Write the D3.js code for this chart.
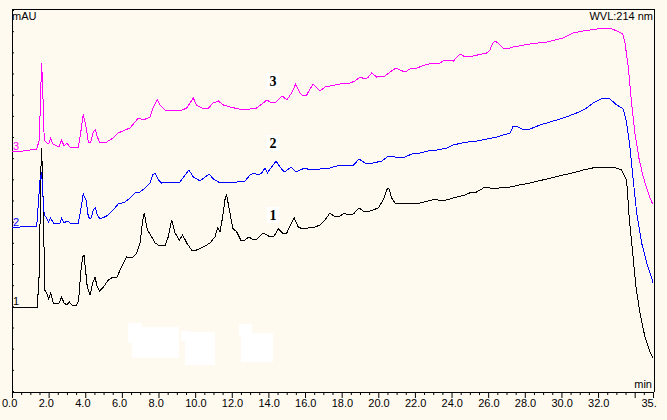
<!DOCTYPE html>
<html><head><meta charset="utf-8">
<script src="https://cdn.jsdelivr.net/npm/d3@7"></script>
<style>html,body{margin:0;padding:0;background:#FFFAF0;overflow:hidden;} svg{display:block;}</style>
</head><body><svg id="c" width="667" height="420"></svg>
<script>
// ---- data (time in min, signal in mAU-like units) ----
const xTickValues = [0,2,4,6,8,10,12,14,16,18,20,22,24,26,28,30,32,34,35];
const xTickLabels = ["0.0","2.0","4.0","6.0","8.0","10.0","12.0","14.0","16.0","18.0","20.0","22.0","24.0","26.0","28.0","30.0","32.0","","35.0"];
const seriesNames = ["1","2","3"];
const seriesColors = ["#000000","#0000FF","#FF00FF"];

const trace1 = [[0,84],[1.38,84],[1.49,118],[1.57,218],[1.62,243],[1.71,184],[1.79,101],[1.89,98],[2.00,92],[2.11,98],[2.26,88],[2.44,87],[2.58,88],[2.71,94],[2.84,88],[2.99,86],[3.13,89],[3.28,86],[3.53,86],[3.64,91],[3.75,118],[3.86,134],[3.93,136],[4.00,124],[4.11,104],[4.26,96],[4.41,108],[4.53,114],[4.66,104],[4.77,100],[4.99,104],[5.26,111],[5.53,114],[5.72,113],[5.90,121],[6.17,131],[6.26,134],[6.54,133],[6.81,138],[6.99,148],[7.14,171],[7.22,178],[7.39,161],[7.63,154],[7.81,148],[7.99,146],[8.35,145],[8.53,154],[8.72,171],[8.90,158],[9.14,151],[9.32,156],[9.54,148],[9.81,141],[10.08,141],[10.45,144],[10.81,148],[11.08,154],[11.23,163],[11.36,159],[11.50,174],[11.65,194],[11.72,196],[11.87,181],[12.05,163],[12.27,159],[12.49,151],[12.72,151],[12.94,154],[13.18,151],[13.39,152],[13.72,158],[14.00,155],[14.31,155],[14.54,162],[14.76,158],[15.00,158],[15.27,168],[15.41,173],[15.63,164],[15.87,162],[16.18,163],[16.54,164],[16.82,166],[17.09,171],[17.36,178],[17.64,174],[17.91,175],[18.14,178],[18.36,176],[18.64,177],[18.95,183],[19.18,180],[19.55,180],[20.00,183],[20.27,191],[20.46,201],[20.57,203],[20.73,193],[20.91,188],[21.19,187],[21.46,188],[21.80,187],[22.28,188],[22.73,190],[23.10,192],[23.46,190],[23.92,192],[24.28,194],[24.74,196],[25.10,199],[25.37,199],[25.83,204],[26.10,203],[26.60,203],[27.19,204],[27.70,206],[28.28,208],[29.20,212],[30.10,216],[30.60,218],[31.19,221],[31.70,223],[32.11,224],[32.83,224],[33.29,221],[33.47,214],[33.56,211],[33.71,171],[33.89,138],[34.07,104],[34.29,78],[34.56,54],[34.84,39],[35.00,33]];

const trace2 = [[0,163],[0.44,164],[1.35,165],[1.53,211],[1.62,219],[1.71,188],[1.76,176],[1.89,173],[2.00,169],[2.11,173],[2.26,168],[2.62,168],[2.71,173],[2.84,168],[3.02,170],[3.17,168],[3.62,168],[3.75,181],[3.89,197],[4.04,191],[4.17,174],[4.30,172],[4.44,181],[4.55,183],[4.66,176],[4.80,172],[5.17,175],[5.53,181],[5.80,187],[6.17,189],[6.44,193],[6.72,198],[6.99,199],[7.26,203],[7.53,208],[7.68,216],[7.81,218],[7.99,211],[8.17,208],[8.45,209],[9.17,209],[9.45,216],[9.66,221],[9.90,214],[10.27,210],[10.54,214],[10.77,217],[10.99,212],[11.27,209],[12.27,209],[12.72,210],[13.00,216],[13.21,218],[13.42,216],[13.63,218],[13.81,223],[13.94,218],[14.18,224],[14.42,230],[14.63,224],[14.87,219],[15.03,221],[15.23,224],[15.51,219],[15.73,221],[16.00,223],[16.27,221],[16.82,222],[17.36,223],[17.91,226],[18.64,226],[18.96,232],[19.27,228],[19.73,228],[20.19,230],[20.55,235],[20.91,234],[21.46,234],[21.83,237],[22.28,238],[22.73,240],[23.19,241],[23.74,243],[24.10,246],[24.55,248],[24.92,249],[25.37,250],[25.92,252],[26.47,254],[27.01,257],[27.19,258],[27.37,265],[27.65,264],[27.83,262],[28.28,262],[28.83,266],[29.38,269],[30.10,273],[30.83,278],[31.38,283],[31.74,288],[32.29,293],[32.65,292],[33.02,286],[33.38,282],[33.56,268],[33.74,244],[33.92,211],[34.11,178],[34.38,148],[34.66,128],[34.93,113],[35.00,108]];

const trace3 = [[0,239],[0.62,240],[1.35,242],[1.49,251],[1.57,301],[1.62,328],[1.71,284],[1.76,251],[1.89,248],[2.00,247],[2.11,253],[2.22,247],[2.44,245],[2.58,245],[2.71,251],[2.84,245],[2.99,248],[3.17,244],[3.62,244],[3.75,258],[3.89,277],[4.04,264],[4.17,249],[4.30,249],[4.44,259],[4.55,261],[4.66,254],[4.80,248],[5.17,249],[5.53,253],[5.80,258],[6.17,261],[6.44,263],[6.72,269],[6.90,273],[7.17,271],[7.53,274],[7.72,284],[7.93,291],[8.12,285],[8.35,281],[9.17,280],[9.54,283],[9.76,289],[9.90,293],[10.08,286],[10.36,283],[10.72,283],[10.99,288],[11.27,290],[11.54,286],[11.90,284],[12.63,281],[13.36,283],[13.72,288],[13.91,291],[14.09,289],[14.36,288],[14.63,293],[14.78,295],[15.00,291],[15.27,298],[15.49,307],[15.73,298],[15.91,295],[16.09,296],[16.27,302],[16.45,307],[16.64,303],[16.82,300],[17.09,304],[17.36,305],[17.91,307],[18.46,308],[18.73,310],[19.00,314],[19.27,312],[19.46,314],[19.64,318],[19.91,314],[20.37,315],[20.64,319],[20.97,323],[21.19,321],[21.46,319],[21.73,322],[22.10,323],[22.55,326],[23.00,328],[23.28,327],[23.55,330],[23.74,331],[24.10,330],[24.46,337],[24.74,334],[25.19,335],[25.65,337],[25.92,338],[26.10,341],[26.25,348],[26.37,350],[26.55,348],[26.79,343],[27.01,342],[27.37,344],[28.28,347],[29.20,349],[30.10,353],[30.65,358],[31.19,360],[31.93,362],[32.65,363],[33.02,360],[33.35,357],[33.47,348],[33.65,324],[33.83,288],[34.01,258],[34.25,231],[34.47,214],[34.74,198],[34.93,189],[35.00,187]];

const peakLabels = ["1","2","3"];
const peakLabelTimes = [14.17,14.17,14.17];
const peakLabelValues = [171,243,305];

// ---- drawing ----
const svg = d3.select("#c");
const x = d3.scaleLinear().domain([0,35]).range([12,653]);
const y = d3.scaleLinear().domain([0,381]).range([391,10]);
const traces = [trace1, trace2, trace3];

svg.append("rect").attr("width",667).attr("height",420).attr("fill","#FFFAF0");

// redacted white blocks
const blocks = [[128,323,14,20],[132,327,47,31],[181,331,8,10],[185,332,30,33],[239,324,13,12],[241,333,32,29]];
svg.selectAll("rect.blk").data(blocks).join("rect").attr("class","blk")
  .attr("x",d=>d[0]).attr("y",d=>d[1]).attr("width",d=>d[2]).attr("height",d=>d[3]).attr("fill","#FFFFFF");

// frame
svg.append("line").attr("x1",12).attr("x2",654.5).attr("y1",9.5).attr("y2",9.5).attr("stroke","#000");
svg.append("line").attr("x1",654.5).attr("x2",654.5).attr("y1",9).attr("y2",392).attr("stroke","#000");

// x axis
const xMinor = d3.range(0,35.01,0.5).filter(v=>!xTickValues.includes(v));
const gxMinor = svg.append("g").attr("transform","translate(0,392)")
  .call(d3.axisBottom(x).tickValues(xMinor).tickSize(3).tickSizeOuter(0).tickFormat(""));
gxMinor.select(".domain").remove();
const labelMap = new Map(xTickValues.map((v,i)=>[v,xTickLabels[i]]));
svg.append("defs").append("clipPath").attr("id","clipR").append("rect").attr("x",0).attr("y",0).attr("width",657).attr("height",420);
const gx = svg.append("g").attr("transform","translate(0,392)").attr("clip-path","url(#clipR)")
  .call(d3.axisBottom(x).tickValues(xTickValues).tickSize(6).tickSizeOuter(0).tickFormat(d=>labelMap.get(d)));
gx.selectAll("text").attr("text-anchor","start").attr("dy",null).attr("y",15)
  .attr("x",d=> d===35 ? -12 : -10.5)
  .style("font-family","'Liberation Sans', Arial, sans-serif").style("font-size","11px").attr("fill","#000");

// y axis
const gy = svg.append("g").attr("transform","translate(12,0)")
  .call(d3.axisLeft(y).tickValues(d3.range(0,381.5,381/18)).tickSize(-2).tickSizeOuter(0).tickFormat(""));
gy.select(".domain").attr("d","M0.5,9V392");

// traces
const line = d3.line().x(d=>x(d[0])).y(d=>y(d[1]));
svg.selectAll("path.tr").data(traces).join("path").attr("class","tr")
  .attr("d",line).attr("fill","none").attr("stroke",(d,i)=>seriesColors[i]).attr("stroke-width",1)
  .attr("shape-rendering","crispEdges");

// series labels at left
svg.selectAll("text.sn").data(traces).join("text").attr("class","sn")
  .attr("x",13).attr("y",d=>y(d[0][1])-2).text((d,i)=>seriesNames[i])
  .attr("fill",(d,i)=>seriesColors[i])
  .style("font-family","'Liberation Sans', Arial, sans-serif").style("font-size","11px");

// peak annotations
const ann = svg.selectAll("g.ann").data(peakLabels).join("g").attr("class","ann")
  .attr("transform",(d,i)=>`translate(${x(peakLabelTimes[i])},${y(peakLabelValues[i])})`);
ann.append("rect").attr("x",-5).attr("y",-13).attr("width",13).attr("height",16).attr("fill","#FFFFFF");
ann.append("text").attr("text-anchor","middle").attr("x",1.5).text(d=>d)
  .style("font-family","'Liberation Serif', 'Times New Roman', serif").style("font-size","14px").style("font-weight","bold");

// texts
const tf = "'Liberation Sans', Arial, sans-serif";
svg.append("text").attr("x",12).attr("y",20).text("mAU").style("font-family",tf).style("font-size","11px");
svg.append("text").attr("x",653).attr("y",20).attr("text-anchor","end").text("WVL:214 nm").style("font-family",tf).style("font-size","11px");
svg.append("text").attr("x",652).attr("y",388).attr("text-anchor","end").text("min").style("font-family",tf).style("font-size","11px");
</script>
</body></html>
